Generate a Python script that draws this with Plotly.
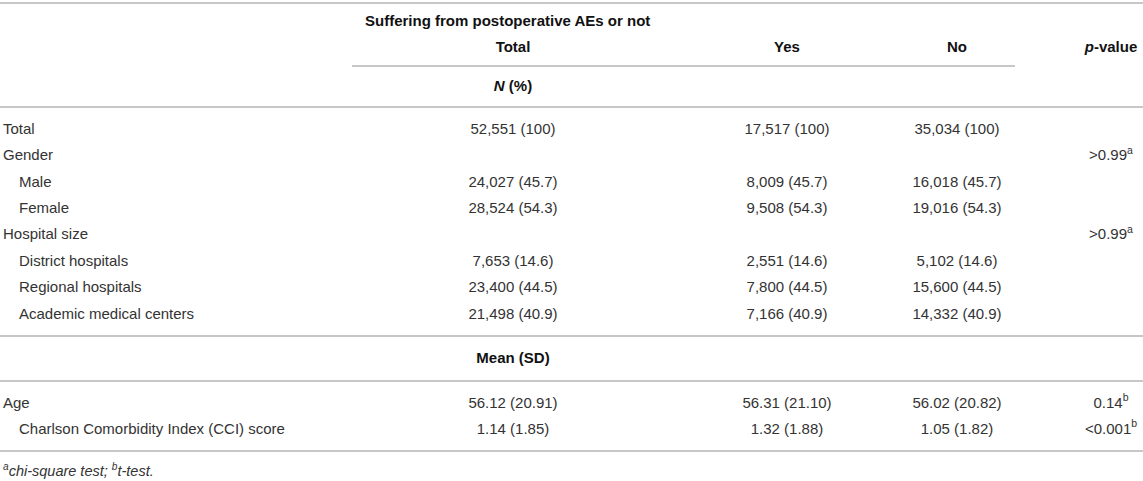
"""Baseline characteristics table: postoperative AEs vs none."""

import plotly.graph_objects as go

# ---- table contents ----
count_labels = ['Total', 'Gender', 'Male', 'Female', 'Hospital size',
                'District hospitals', 'Regional hospitals', 'Academic medical centers']
count_indent = [0, 0, 1, 1, 0, 1, 1, 1]
count_total = ['52,551 (100)', '', '24,027 (45.7)', '28,524 (54.3)', '',
               '7,653 (14.6)', '23,400 (44.5)', '21,498 (40.9)']
count_yes = ['17,517 (100)', '', '8,009 (45.7)', '9,508 (54.3)', '',
             '2,551 (14.6)', '7,800 (44.5)', '7,166 (40.9)']
count_no = ['35,034 (100)', '', '16,018 (45.7)', '19,016 (54.3)', '',
            '5,102 (14.6)', '15,600 (44.5)', '14,332 (40.9)']
count_p = ['', '&gt;0.99<sup>a</sup>', '', '', '&gt;0.99<sup>a</sup>', '', '', '']

mean_labels = ['Age', 'Charlson Comorbidity Index (CCI) score']
mean_indent = [0, 1]
mean_total = ['56.12 (20.91)', '1.14 (1.85)']
mean_yes = ['56.31 (21.10)', '1.32 (1.88)']
mean_no = ['56.02 (20.82)', '1.05 (1.82)']
mean_p = ['0.14<sup>b</sup>', '&lt;0.001<sup>b</sup>']

group_title = 'Suffering from postoperative AEs or not'
col_heads = ['Total', 'Yes', 'No', '<i>p</i>-value']
section_heads = ['<i>N</i> (%)', 'Mean (SD)']
footnote = '<i><sup>a</sup>chi-square test; <sup>b</sup>t-test.</i>'

# ---- layout (pixels) ----
W, H = 1143, 481
FONT = 'Liberation Sans, Arial, sans-serif'
TEXT_GREY = '#333333'
HEAD_COLOR = '#111111'
RULE = '#b4b4b4'
LABEL_X = [3, 19]
COL_X = [513, 787, 957, 1111]
HEAD_Y = 48
COUNT_Y0, COUNT_STEP = 130, 26.4
MEAN_Y0, MEAN_STEP = 404, 26

count_y = [COUNT_Y0 + i * COUNT_STEP for i in range(len(count_labels))]
mean_y = [MEAN_Y0 + i * MEAN_STEP for i in range(len(mean_labels))]

fig = go.Figure()


def add_text(x, y, text, pos, size=15, color=TEXT_GREY):
    # skip blank cells so no empty text nodes are drawn
    keep = [i for i, t in enumerate(text) if t]
    fig.add_trace(go.Scatter(x=[x[i] for i in keep], y=[y[i] for i in keep],
                             text=[text[i] for i in keep], mode='text', textposition=pos,
                             textfont=dict(family=FONT, size=size, color=color),
                             hoverinfo='skip', showlegend=False))


# body rows
for labels, indent, ys in [(count_labels, count_indent, count_y),
                           (mean_labels, mean_indent, mean_y)]:
    add_text([LABEL_X[k] for k in indent], ys, labels, 'middle right')

for cols, ys in [([count_total, count_yes, count_no, count_p], count_y),
                 ([mean_total, mean_yes, mean_no, mean_p], mean_y)]:
    for cx, vals in zip(COL_X, cols):
        add_text([cx] * len(vals), ys, vals, 'middle center')

# headers
add_text([365], [22], ['<b>' + group_title + '</b>'], 'middle right', color=HEAD_COLOR)
add_text(COL_X, [HEAD_Y] * 4, ['<b>' + h + '</b>' for h in col_heads], 'middle center',
         color=HEAD_COLOR)
add_text([COL_X[0], COL_X[0]], [87, 359], ['<b>' + h + '</b>' for h in section_heads],
         'middle center', color=HEAD_COLOR)
add_text([LABEL_X[0]], [472], [footnote], 'middle right', size=14.5)

# horizontal rules
rules = [(0, W, 3), (352, 1015, 66), (0, W, 107), (0, W, 336),
         (0, W, 381), (0, W, 451)]
for x0, x1, y in rules:
    fig.add_shape(type='line', x0=x0, x1=x1, y0=y, y1=y, xref='x', yref='y',
                  line=dict(color=RULE, width=1.6))

fig.update_layout(
    width=W, height=H,
    margin=dict(l=0, r=0, t=0, b=0),
    paper_bgcolor='white', plot_bgcolor='white',
    xaxis=dict(range=[0, W], visible=False, fixedrange=True),
    yaxis=dict(range=[H, 0], visible=False, fixedrange=True),
)

fig.write_html('out.html', config={'displayModeBar': False},
               post_script="document.body.style.margin='0';")
